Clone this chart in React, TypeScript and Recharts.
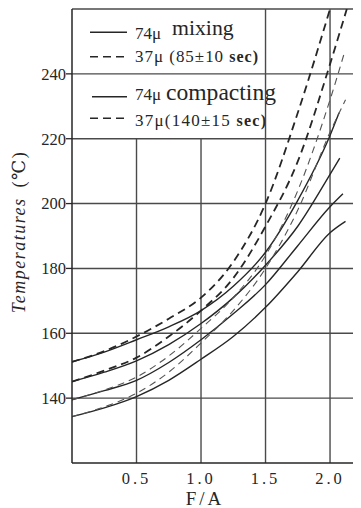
import React from 'react';
import { LineChart, Line, XAxis, YAxis, ReferenceLine, Customized } from 'recharts';

// F/A sampling positions shared by all curves
const faGrid = [0, 0.25, 0.5, 0.75, 1.0, 1.25, 1.5, 1.75, 2.0];

// Solid curves (74μ) – four families, top to bottom
const solidA = [151.2, 154.2, 158, 162, 167, 174.5, 185, 201, 221];
const solidAEnd = [2.07, 228];
const solidB = [145.1, 148, 151.5, 156.5, 163, 171, 181, 193, 209];
const solidBEnd = [2.075, 214];
const solidC = [139.5, 142.3, 145.5, 151, 158, 166, 175, 187, 199];
const solidCEnd = [2.1, 203];
const solidD = [134.3, 137, 140.5, 145.5, 152, 159, 168, 179, 191];
const solidDEnd = [2.12, 194.5];

// Dashed curves (37μ)
const dashedA = [151.2, 154.5, 159, 164.5, 171, 182, 200, 228, 260];
const dashedB = [145.1, 148.5, 152.5, 159, 167, 177, 193, 213, 243];
const dashedBEnd = [2.13, 260];
const dashedC = [139.5, 142.5, 146.5, 153, 161.5, 171, 184, 204, 232];
const dashedCEnd = [2.115, 247];
const dashedD = [134.3, 137.3, 141.5, 148, 157, 167, 180, 198, 222];
const dashedDEnd = [2.12, 232];

const xTicks = [0.5, 1.0, 1.5, 2.0];
const yTicks = [140, 160, 180, 200, 220, 240];
const fullXGrid = [1.5, 2.0];
const shortXGrid = [0.5, 1.0];

const toPoints = (vals: number[], end?: number[]) =>
  faGrid
    .map((x, i) => ({ x, v: vals[i] }))
    .concat(end ? [{ x: end[0], v: end[1] }] : []);

const SERIF = "'Liberation Serif', 'DejaVu Serif', serif";
const INK = '#262626';
const GRID = '#4a4a4a';

const Overlay = () => (
  <g fontFamily={SERIF} fill={INK}>
    {/* legend row 1 */}
    <line x1={82} x2={119} y1={24.3} y2={24.3} stroke={INK} strokeWidth={1.4} />
    <text x={127} y={31.3} fontSize={17}>74μ</text>
    <text x={164} y={27} fontSize={22} textLength={61.7} lengthAdjust="spacingAndGlyphs">mixing</text>
    {/* legend row 2 */}
    <line x1={82} x2={119} y1={48.7} y2={48.7} stroke={INK} strokeWidth={1.6} strokeDasharray="8 5" />
    <text x={127} y={53.7} fontSize={17} textLength={123} lengthAdjust="spacing">
      37μ (85±10 <tspan fontWeight="bold" fontSize={16}>sec)</tspan>
    </text>
    {/* legend row 3 */}
    <line x1={84} x2={119} y1={88.7} y2={88.7} stroke={INK} strokeWidth={1.4} />
    <text x={127} y={92} fontSize={17}>74μ</text>
    <text x={158} y={92} fontSize={23} textLength={110} lengthAdjust="spacingAndGlyphs"
      stroke="#fff" strokeWidth={4} paintOrder="stroke">compacting</text>
    {/* legend row 4 */}
    <line x1={82} x2={119} y1={110.3} y2={110.3} stroke={INK} strokeWidth={1.6} strokeDasharray="8 5" />
    <text x={127} y={118} fontSize={17} textLength={131} lengthAdjust="spacing">
      37μ(140±15 <tspan fontWeight="bold" fontSize={16}>sec)</tspan>
    </text>
    {/* y-axis title */}
    <text x={11} y={224} fontSize={18} letterSpacing={1.5} textAnchor="middle" dominantBaseline="central"
      transform="rotate(-90 11 224)">
      <tspan fontStyle="italic">Temperatures</tspan>
      <tspan dx={10}>(℃)</tspan>
    </text>
    {/* x-axis title */}
    <text x={197} y={497} fontSize={19} letterSpacing={3} textAnchor="middle">F/A</text>
  </g>
);

export default function App() {
  return (
    <div style={{ width: 353, height: 500, background: '#fff' }}>
      <LineChart width={353} height={500} margin={{ top: 1, right: 0, bottom: 15, left: 0 }}>
        <XAxis
          dataKey="x"
          type="number"
          domain={[0, 2.24]}
          ticks={xTicks}
          allowDataOverflow
          tickFormatter={(v: number) => v.toFixed(1)}
          tickLine={false}
          tickSize={6}
          tickMargin={3}
          height={30}
          axisLine={{ stroke: INK, strokeWidth: 1.5 }}
          tick={{ fontFamily: SERIF, fontSize: 16.5, fill: INK, letterSpacing: 3 }}
        />
        <YAxis
          type="number"
          domain={[120, 260]}
          ticks={yTicks}
          allowDataOverflow
          width={64}
          tickSize={6}
          tickMargin={0}
          axisLine={{ stroke: INK, strokeWidth: 1.5 }}
          tickLine={{ stroke: INK, strokeWidth: 1.3 }}
          tick={{ fontFamily: SERIF, fontSize: 16.5, fill: INK }}
        />
        {yTicks.map((t) => (
          <ReferenceLine key={'h' + t} y={t} stroke={GRID} strokeWidth={1.4} />
        ))}
        <ReferenceLine y={260} stroke={GRID} strokeWidth={1.5} />
        {fullXGrid.map((t) => (
          <ReferenceLine key={'v' + t} x={t} stroke={GRID} strokeWidth={1.4} />
        ))}
        {shortXGrid.map((t) => (
          <ReferenceLine
            key={'s' + t}
            segment={[{ x: t, y: 120 }, { x: t, y: 220 }]}
            stroke={GRID}
            strokeWidth={1.4}
          />
        ))}
        <Line data={toPoints(solidA, solidAEnd)} dataKey="v" type="monotone" stroke={INK} strokeWidth={1.4} dot={false} isAnimationActive={false} />
        <Line data={toPoints(solidB, solidBEnd)} dataKey="v" type="monotone" stroke={INK} strokeWidth={1.4} dot={false} isAnimationActive={false} />
        <Line data={toPoints(solidC, solidCEnd)} dataKey="v" type="monotone" stroke={INK} strokeWidth={1.4} dot={false} isAnimationActive={false} />
        <Line data={toPoints(solidD, solidDEnd)} dataKey="v" type="monotone" stroke={INK} strokeWidth={1.4} dot={false} isAnimationActive={false} />
        <Line data={toPoints(dashedA)} dataKey="v" type="monotone" stroke={INK} strokeWidth={1.8} strokeDasharray="8 5" dot={false} isAnimationActive={false} />
        <Line data={toPoints(dashedB, dashedBEnd)} dataKey="v" type="monotone" stroke={INK} strokeWidth={1.8} strokeDasharray="8 5" dot={false} isAnimationActive={false} />
        <Line data={toPoints(dashedC, dashedCEnd)} dataKey="v" type="monotone" stroke="#555" strokeWidth={1.1} strokeDasharray="7 5" dot={false} isAnimationActive={false} />
        <Line data={toPoints(dashedD, dashedDEnd)} dataKey="v" type="monotone" stroke="#555" strokeWidth={1.1} strokeDasharray="7 5" dot={false} isAnimationActive={false} />
        <Customized component={<Overlay />} />
      </LineChart>
    </div>
  );
}
